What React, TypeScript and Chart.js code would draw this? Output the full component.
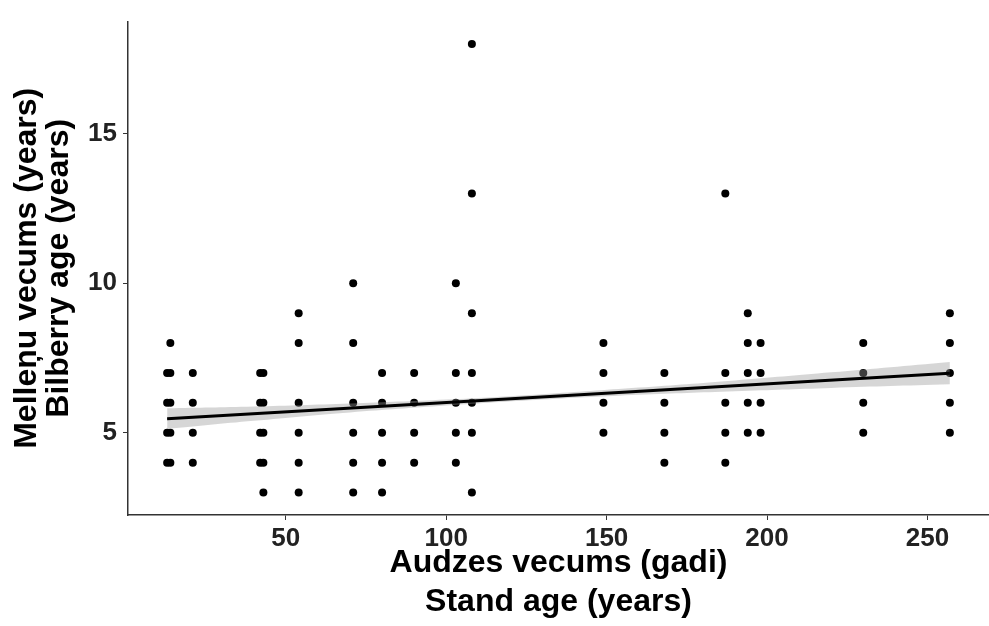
import React, { useEffect, useRef } from 'react';
import { Chart, registerables } from 'chart.js';

Chart.register(...registerables);

// Stand age (x) and bilberry age (y) for each sampled ramet
const standAge = [
  13, 13, 13, 13,
  14, 14, 14, 14, 14,
  21, 21, 21, 21,
  42, 42, 42, 42,
  43, 43, 43, 43, 43,
  54, 54, 54, 54, 54, 54,
  71, 71, 71, 71, 71, 71,
  80, 80, 80, 80, 80,
  90, 90, 90, 90,
  103, 103, 103, 103, 103,
  108, 108, 108, 108, 108, 108, 108,
  149, 149, 149, 149,
  168, 168, 168, 168,
  187, 187, 187, 187, 187,
  194, 194, 194, 194, 194,
  198, 198, 198, 198,
  230, 230, 230, 230,
  257, 257, 257, 257, 257,
];
const bilberryAge = [
  7, 6, 5, 4,
  8, 7, 6, 5, 4,
  7, 6, 5, 4,
  7, 6, 5, 4,
  7, 6, 5, 4, 3,
  9, 8, 6, 5, 4, 3,
  10, 8, 6, 5, 4, 3,
  7, 6, 5, 4, 3,
  7, 6, 5, 4,
  10, 7, 6, 5, 4,
  18, 13, 9, 7, 6, 5, 3,
  8, 7, 6, 5,
  7, 6, 5, 4,
  13, 7, 6, 5, 4,
  9, 8, 7, 6, 5,
  8, 7, 6, 5,
  8, 7, 6, 5,
  9, 8, 7, 6, 5,
];

// Linear fit
const fitX = [13, 257];
const fitY = [5.47, 6.99];

// Confidence band
const bandX = [13, 40, 70, 100, 130, 160, 190, 220, 257];
const bandLow = [5.13, 5.40, 5.68, 5.91, 6.11, 6.27, 6.39, 6.50, 6.62];
const bandHigh = [5.82, 5.88, 5.98, 6.11, 6.29, 6.51, 6.75, 7.02, 7.37];

const xTicks = [50, 100, 150, 200, 250];
const yTicks = [5, 10, 15];

const xTitle = ['Audzes vecums (gadi)', 'Stand age (years)'];
const yTitle = ['Melleņu vecums (years)', 'Bilberry age (years)'];

const FAMILY = "'Liberation Sans', Arial, Helvetica, sans-serif";

export default function App() {
  const ref = useRef<HTMLCanvasElement | null>(null);

  useEffect(() => {
    if (!ref.current) return;
    const chart = new Chart(ref.current, {
      type: 'scatter',
      data: {
        datasets: [
          {
            label: 'points',
            data: standAge.map((x, i) => ({ x, y: bilberryAge[i] })),
            pointRadius: 4,
            pointHoverRadius: 4,
            backgroundColor: '#000',
            borderColor: '#000',
            borderWidth: 0,
            order: 3,
          } as any,
          {
            label: 'upper',
            data: bandX.map((x, i) => ({ x, y: bandHigh[i] })),
            showLine: true,
            pointRadius: 0,
            borderColor: 'transparent',
            borderWidth: 1,
            backgroundColor: 'rgba(153,153,153,0.4)',
            fill: '+1',
            tension: 0.4,
            order: 2,
          } as any,
          {
            label: 'lower',
            data: bandX.map((x, i) => ({ x, y: bandLow[i] })),
            showLine: true,
            pointRadius: 0,
            borderColor: 'transparent',
            borderWidth: 1,
            backgroundColor: 'transparent',
            fill: false,
            tension: 0.4,
            order: 2,
          } as any,
          {
            label: 'fit',
            data: fitX.map((x, i) => ({ x, y: fitY[i] })),
            showLine: true,
            pointRadius: 0,
            borderColor: '#000',
            borderWidth: 3,
            fill: false,
            order: 1,
          } as any,
        ],
      },
      options: {
        animation: false,
        responsive: false,
        maintainAspectRatio: false,
        layout: { padding: 0, autoPadding: false },
        plugins: {
          legend: { display: false },
          tooltip: { enabled: false },
        },
        scales: {
          x: {
            type: 'linear',
            min: 0.8,
            max: 269.2,
            afterBuildTicks: (s: any) => {
              s.ticks = xTicks.map((v) => ({ value: v }));
            },
            afterFit: (s: any) => {
              s.height = 111;
            },
            grid: {
              display: true,
              drawOnChartArea: false,
              drawTicks: true,
              tickLength: 5,
              color: '#333',
              lineWidth: 1,
            },
            border: { display: true, color: '#333', width: 1.5 },
            ticks: {
              color: '#222',
              font: { family: FAMILY, size: 26, weight: 'bold' },
              padding: 3,
              maxRotation: 0,
              autoSkip: false,
            },
            title: {
              display: true,
              text: xTitle,
              color: '#000',
              font: { family: FAMILY, size: 32, weight: 'bold', lineHeight: 1.2 },
              padding: { top: 0, bottom: 5 },
            },
          },
          y: {
            type: 'linear',
            min: 2.25,
            max: 18.75,
            afterBuildTicks: (s: any) => {
              s.ticks = yTicks.map((v) => ({ value: v }));
            },
            afterFit: (s: any) => {
              s.width = 128;
            },
            grid: {
              display: true,
              drawOnChartArea: false,
              drawTicks: true,
              tickLength: 5,
              color: '#333',
              lineWidth: 1,
            },
            border: { display: true, color: '#333', width: 1.5 },
            ticks: {
              color: '#222',
              font: { family: FAMILY, size: 26, weight: 'bold' },
              padding: 6,
              autoSkip: false,
            },
            title: {
              display: true,
              text: yTitle,
              color: '#000',
              font: { family: FAMILY, size: 32, weight: 'bold', lineHeight: 1.0 },
              padding: { top: 11, bottom: 0 },
            },
          },
        },
      } as any,
    });
    return () => chart.destroy();
  }, []);

  return (
    <div style={{ position: 'absolute', left: 0, top: 0, width: 989, height: 626, background: '#fff' }}>
      <canvas ref={ref} width={989} height={626} style={{ display: 'block' }} />
    </div>
  );
}
